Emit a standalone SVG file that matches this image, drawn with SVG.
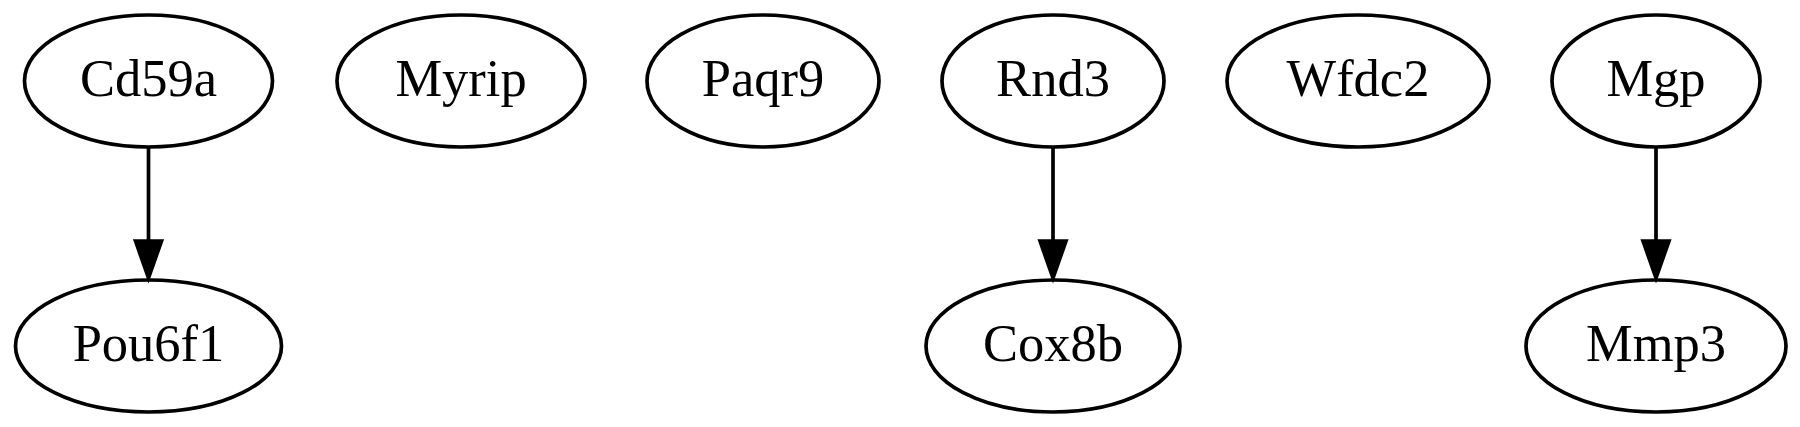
<svg xmlns="http://www.w3.org/2000/svg" width="1800" height="427" viewBox="0 0 1800 427">
<defs>
<style>
.node ellipse{fill:none;stroke:#000;stroke-width:3.7}
.node text{font-family:"Liberation Serif","Times New Roman",serif;font-size:52.5px;text-anchor:middle;fill:#000}
.edge line{stroke:#000;stroke-width:3.7}
.edge polygon{fill:#000;stroke:#000;stroke-width:3.7}
</style>
</defs>
<rect width="1800" height="427" fill="#fff"/>
<g id="Cd59a" class="node"><ellipse cx="148.5" cy="81" rx="124" ry="66"/><text x="148.5" y="96">Cd59a</text></g>
<g id="Pou6f1" class="node"><ellipse cx="148.5" cy="346" rx="133" ry="66"/><text x="148.5" y="361">Pou6f1</text></g>
<g id="Myrip" class="node"><ellipse cx="461" cy="81" rx="124" ry="66"/><text x="461" y="96">Myrip</text></g>
<g id="Paqr9" class="node"><ellipse cx="763" cy="81" rx="116" ry="66"/><text x="763" y="96">Paqr9</text></g>
<g id="Rnd3" class="node"><ellipse cx="1053" cy="81" rx="111" ry="66"/><text x="1053" y="96">Rnd3</text></g>
<g id="Cox8b" class="node"><ellipse cx="1053" cy="346" rx="127" ry="66"/><text x="1053" y="361">Cox8b</text></g>
<g id="Wfdc2" class="node"><ellipse cx="1358" cy="81" rx="131" ry="66"/><text x="1358" y="96">Wfdc2</text></g>
<g id="Mgp" class="node"><ellipse cx="1656" cy="81" rx="104" ry="66"/><text x="1656" y="96">Mgp</text></g>
<g id="Mmp3" class="node"><ellipse cx="1656" cy="346" rx="130" ry="66"/><text x="1656" y="361">Mmp3</text></g>
<g id="connectors" class="edge">
<g id="Cd59a-Pou6f1"><line x1="148.5" y1="148" x2="148.5" y2="241"/><polygon points="135.5,241 148.5,278 161.5,241"/></g>
<g id="Rnd3-Cox8b"><line x1="1053" y1="148" x2="1053" y2="241"/><polygon points="1040,241 1053,278 1066,241"/></g>
<g id="Mgp-Mmp3"><line x1="1656" y1="148" x2="1656" y2="241"/><polygon points="1643,241 1656,278 1669,241"/></g>
</g>
</svg>
